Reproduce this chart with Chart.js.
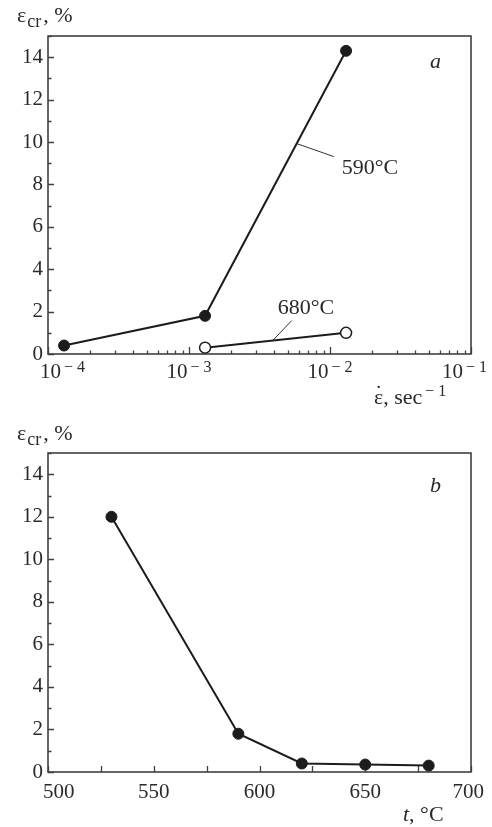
<!DOCTYPE html>
<html><head><meta charset="utf-8">
<script src="https://cdn.jsdelivr.net/npm/chart.js@4"></script>
<style>
html,body{margin:0;padding:0;background:#fff;width:492px;height:827px;overflow:hidden}
canvas{position:absolute;left:0}
#c1{top:0}
#c2{top:410px}
</style></head><body>
<canvas id="c1" width="492" height="410"></canvas>
<canvas id="c2" width="492" height="417"></canvas>
<script>
// ---- data ----
const strainRate590 = [1.3e-4, 1.3e-3, 1.3e-2];
const epsCr590 = [0.4, 1.8, 14.3];
const strainRate680 = [1.3e-3, 1.3e-2];
const epsCr680 = [0.3, 1.0];
const temperature = [530, 590, 620, 650, 680];
const epsCrT = [12, 1.8, 0.4, 0.35, 0.3];
// ---- axis ticks ----
const epsTicks = [0,1,2,3,4,5,6,7,8,9,10,11,12,13,14,15];
const rateDecades = [-4, -3, -2, -1];
const tempTicks = [500,525,550,575,600,625,650,675,700];
const tempLabels = [500, 550, 600, 650, 700];
const seriesLabels = ['590°C', '680°C'];

const TXT = '#2a2a2a';
const LINE = '#1c1c1c';
const FRAME = '#404040';
const SERIF = "'Liberation Serif', 'Times New Roman', serif";
const TICKF = 21, TITLEF = 22;

function rateTickDefs() {
  const out = [];
  for (let i = 0; i < rateDecades.length; i++) {
    const d = rateDecades[i];
    out.push({value: Math.pow(10, d), len: 7});
    if (i < rateDecades.length - 1) {
      for (let s = 2; s <= 9; s++) out.push({value: s * Math.pow(10, d), len: 3.5});
    }
  }
  return out;
}
const epsTickDefs = epsTicks.map(v => ({value: v, len: v % 2 === 0 ? 6 : 3.5}));

function drawFrame(chart, xDefs) {
  const {ctx, chartArea: a, scales} = chart;
  ctx.save();
  ctx.strokeStyle = FRAME;
  ctx.lineWidth = 1.6;
  ctx.strokeRect(a.left, a.top, a.right - a.left, a.bottom - a.top);
  ctx.lineWidth = 1.3;
  ctx.beginPath();
  for (const t of epsTickDefs) {
    const y = Math.round(scales.y.getPixelForValue(t.value)) + 0.5;
    ctx.moveTo(a.left, y); ctx.lineTo(a.left + t.len, y);
  }
  for (const t of xDefs) {
    const x = Math.round(scales.x.getPixelForValue(t.value)) + 0.5;
    ctx.moveTo(x, a.bottom); ctx.lineTo(x, a.bottom - t.len);
  }
  ctx.stroke();
  ctx.restore();
}

function drawEpsTitle(ctx, x, base) {
  ctx.save();
  ctx.fillStyle = TXT;
  ctx.textBaseline = 'alphabetic';
  ctx.textAlign = 'left';
  ctx.font = TITLEF + 'px ' + SERIF;
  ctx.fillText('ε', x, base);
  const w = ctx.measureText('ε').width;
  ctx.font = '18px ' + SERIF;
  ctx.fillText('cr', x + w + 1, base + 5);
  const w2 = ctx.measureText('cr').width;
  ctx.font = TITLEF + 'px ' + SERIF;
  ctx.fillText(', %', x + w + w2 + 3, base);
  ctx.restore();
}

function lerpPt(meta, i, j, f) {
  const p = meta.data[i], q = meta.data[j];
  return {x: p.x + (q.x - p.x) * f, y: p.y + (q.y - p.y) * f};
}

const plugin1 = {
  id: 'deco1',
  beforeDatasetsDraw(chart) { drawFrame(chart, rateTickDefs()); },
  afterDraw(chart) {
    const {ctx, chartArea: a, scales} = chart;
    ctx.save();
    ctx.fillStyle = TXT;
    ctx.textBaseline = 'alphabetic';
    ctx.textAlign = 'left';
    // log axis labels 10^n
    for (const d of rateDecades) {
      const x = scales.x.getPixelForValue(Math.pow(10, d));
      ctx.font = TICKF + 'px ' + SERIF;
      const w1 = ctx.measureText('10').width;
      ctx.font = '16px ' + SERIF;
      const sup = '− ' + Math.abs(d);
      const w2 = ctx.measureText(sup).width;
      const tw = w1 + 3 + w2;
      let x0 = x - tw / 2;
      x0 = Math.max(x0, 40);
      x0 = Math.min(x0, 487 - tw);
      ctx.font = TICKF + 'px ' + SERIF;
      ctx.fillText('10', x0, a.bottom + 24);
      ctx.font = '16px ' + SERIF;
      ctx.fillText(sup, x0 + w1 + 3, a.bottom + 18);
    }
    // y title
    drawEpsTitle(ctx, 17, 22);
    // x title  ε̇, sec^-1
    const tx = 374, tb = 404;
    ctx.font = TITLEF + 'px ' + SERIF;
    ctx.fillText('ε', tx, tb);
    const we = ctx.measureText('ε').width;
    ctx.textAlign = 'center';
    ctx.fillText('˙', tx + we / 2, tb - 4);
    ctx.textAlign = 'left';
    ctx.fillText(', sec', tx + we, tb);
    const ws = ctx.measureText(', sec').width;
    ctx.font = '16px ' + SERIF;
    ctx.fillText('− 1', tx + we + ws + 3, tb - 8);
    // panel letter
    ctx.font = 'italic ' + TITLEF + 'px ' + SERIF;
    ctx.fillText('a', 430, 68);
    // series annotations with leader lines
    ctx.strokeStyle = '#333';
    ctx.lineWidth = 1;
    const p590 = lerpPt(chart.getDatasetMeta(0), 1, 2, 0.65);
    ctx.beginPath(); ctx.moveTo(p590.x, p590.y); ctx.lineTo(p590.x + 37, p590.y + 13); ctx.stroke();
    ctx.font = TITLEF + 'px ' + SERIF;
    ctx.fillText(seriesLabels[0], p590.x + 45, p590.y + 30);
    const p680 = lerpPt(chart.getDatasetMeta(1), 0, 1, 0.48);
    ctx.beginPath(); ctx.moveTo(p680.x, p680.y); ctx.lineTo(p680.x + 19, p680.y - 20); ctx.stroke();
    ctx.fillText(seriesLabels[1], p680.x + 5, p680.y - 27);
    ctx.restore();
  }
};

const plugin2 = {
  id: 'deco2',
  beforeDatasetsDraw(chart) { drawFrame(chart, tempTicks.map(v => ({value: v, len: 6}))); },
  afterDraw(chart) {
    const {ctx, chartArea: a, scales} = chart;
    ctx.save();
    ctx.fillStyle = TXT;
    ctx.textBaseline = 'alphabetic';
    ctx.textAlign = 'left';
    ctx.font = TICKF + 'px ' + SERIF;
    for (const v of tempLabels) {
      const s = String(v);
      const w = ctx.measureText(s).width;
      let x0 = scales.x.getPixelForValue(v) - w / 2;
      x0 = Math.max(x0, 43);
      x0 = Math.min(x0, 484 - w);
      ctx.fillText(s, x0, a.bottom + 26);
    }
    drawEpsTitle(ctx, 17, 30);
    ctx.font = 'italic ' + TITLEF + 'px ' + SERIF;
    ctx.fillText('t', 403, 411);
    const wt = ctx.measureText('t').width;
    ctx.font = TITLEF + 'px ' + SERIF;
    ctx.fillText(', °C', 403 + wt, 411);
    ctx.font = 'italic ' + TITLEF + 'px ' + SERIF;
    ctx.fillText('b', 430, 82);
    ctx.restore();
  }
};

function yScale() {
  return {
    type: 'linear', min: 0, max: 15,
    grid: {display: false, drawTicks: false},
    border: {display: false},
    ticks: {
      stepSize: 1, autoSkip: false, padding: 5, color: TXT,
      font: {family: SERIF, size: TICKF},
      callback: v => (v % 2 === 0 && v <= 14) ? String(v) : ''
    },
    afterFit: s => { s.width = 48; }
  };
}

const filled = {
  borderColor: LINE, borderWidth: 2, pointRadius: 5.5, pointHoverRadius: 5.5,
  pointBackgroundColor: LINE, pointBorderColor: LINE, pointBorderWidth: 1,
  fill: false, tension: 0, clip: false
};

new Chart(document.getElementById('c1'), {
  type: 'line',
  data: {
    datasets: [
      Object.assign({label: seriesLabels[0], data: strainRate590.map((x, i) => ({x, y: epsCr590[i]}))}, filled),
      Object.assign({}, filled, {label: seriesLabels[1],
        data: strainRate680.map((x, i) => ({x, y: epsCr680[i]})),
        pointBackgroundColor: '#fff', pointBorderWidth: 1.5})
    ]
  },
  options: {
    responsive: false, animation: false, devicePixelRatio: 1,
    layout: {padding: {top: 36, right: 21, left: 0, bottom: 0}},
    plugins: {legend: {display: false}, tooltip: {enabled: false}},
    events: [],
    scales: {
      x: {
        type: 'logarithmic', min: 1e-4, max: 1e-1,
        grid: {display: false, drawTicks: false},
        border: {display: false},
        ticks: {display: false, autoSkip: false},
        afterFit: s => { s.height = 56; }
      },
      y: yScale()
    }
  },
  plugins: [plugin1]
});

new Chart(document.getElementById('c2'), {
  type: 'line',
  data: {
    datasets: [
      Object.assign({label: 't', data: temperature.map((x, i) => ({x, y: epsCrT[i]}))}, filled)
    ]
  },
  options: {
    responsive: false, animation: false, devicePixelRatio: 1,
    layout: {padding: {top: 43, right: 21, left: 0, bottom: 0}},
    plugins: {legend: {display: false}, tooltip: {enabled: false}},
    events: [],
    scales: {
      x: {
        type: 'linear', min: 500, max: 700,
        grid: {display: false, drawTicks: false},
        border: {display: false},
        ticks: {display: false, stepSize: 50, autoSkip: false},
        afterFit: s => { s.height = 55; }
      },
      y: yScale()
    }
  },
  plugins: [plugin2]
});
</script>
</body></html>
